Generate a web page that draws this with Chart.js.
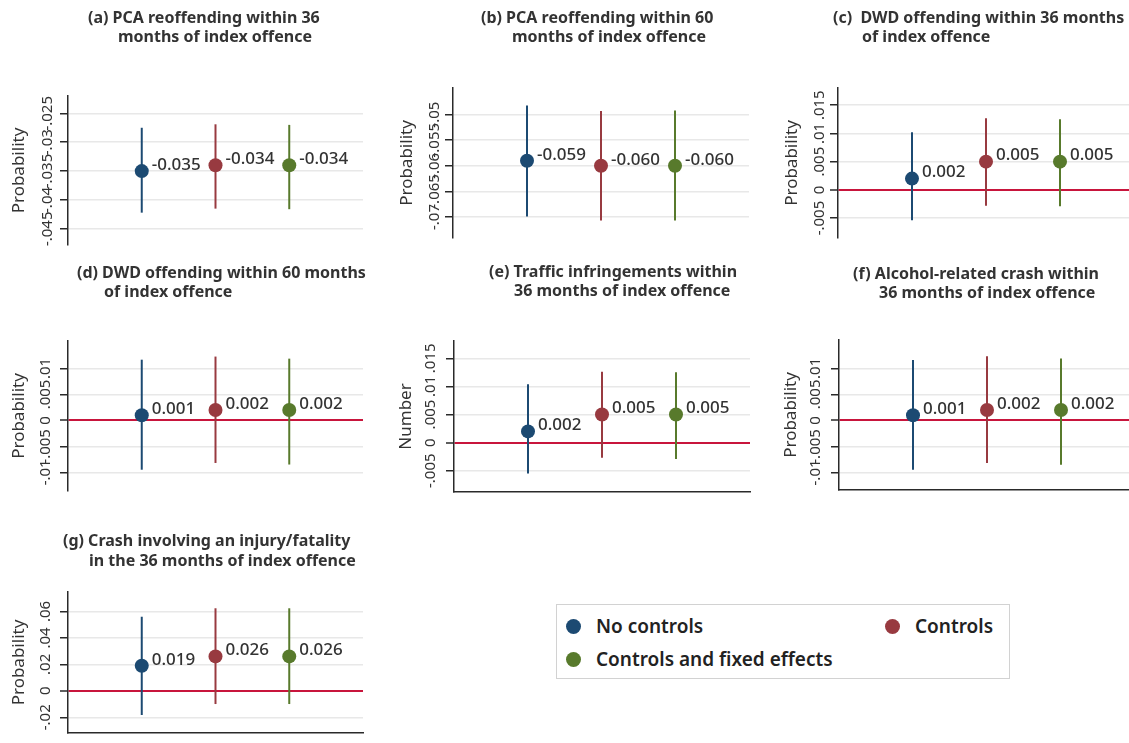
<!DOCTYPE html>
<html>
<head>
<meta charset="utf-8">
<title>Estimated effects with confidence intervals</title>
<script src="https://cdn.jsdelivr.net/npm/chart.js@4.4.1/dist/chart.umd.min.js"></script>
<style>
  html, body { margin: 0; padding: 0; background: #ffffff; overflow: hidden; }
  #page { position: relative; width: 1129px; height: 743px; overflow: hidden; }
  #page canvas { position: absolute; left: 0; top: 0; }
  #legend {
    position: absolute; left: 556px; top: 604px; width: 454px; height: 75px;
    box-sizing: border-box; border: 1px solid #d2d2d2; background: #fff;
    font: 600 19px "Noto Sans", sans-serif; color: #222;
  }
  #legend .item { position: absolute; display: flex; align-items: center; white-space: nowrap; height: 24px; }
  #legend .dot { width: 15px; height: 15px; border-radius: 50%; flex: none; margin-right: 15.5px; }
</style>
</head>
<body>
<div id="page"><div id="legend"></div></div>
<script>
// ---- series ----
const seriesNames = ['No controls', 'Controls', 'Controls and fixed effects'];
const seriesColors = ['#1c4a72', '#983a40', '#587a2c'];

// ---- panels ----
const panelTitles = [
  ['(a) PCA reoffending within 36', 'months of index offence'],
  ['(b) PCA reoffending within 60', 'months of index offence'],
  ['(c)  DWD offending within 36 months', 'of index offence'],
  ['(d) DWD offending within 60 months', 'of index offence'],
  ['(e) Traffic infringements within', '36 months of index offence'],
  ['(f) Alcohol-related crash within', '36 months of index offence'],
  ['(g) Crash involving an injury/fatality', 'in the 36 months of index offence']
];
const yAxisTitles = ['Probability', 'Probability', 'Probability', 'Probability', 'Number', 'Probability', 'Probability'];

// point estimates, one row per panel, one column per series
const estimates = [
  [-0.035, -0.034, -0.034],
  [-0.059, -0.060, -0.060],
  [0.002, 0.005, 0.005],
  [0.001, 0.002, 0.002],
  [0.002, 0.005, 0.005],
  [0.001, 0.002, 0.002],
  [0.019, 0.026, 0.026]
];
// confidence interval bounds
const lowerBounds = [
  [-0.0422, -0.0415, -0.0416],
  [-0.0699, -0.0707, -0.0707],
  [-0.0054, -0.0028, -0.0029],
  [-0.0095, -0.0082, -0.0085],
  [-0.0055, -0.0027, -0.0029],
  [-0.0095, -0.0082, -0.0085],
  [-0.0183, -0.0100, -0.0100]
];
const upperBounds = [
  [-0.0275, -0.0269, -0.0270],
  [-0.0482, -0.0493, -0.0492],
  [0.0102, 0.0127, 0.0125],
  [0.0117, 0.0123, 0.0119],
  [0.0104, 0.0126, 0.0125],
  [0.0116, 0.0123, 0.0119],
  [0.0560, 0.0624, 0.0624]
];
// y axis ticks
const yTickValues = [
  [-0.045, -0.04, -0.035, -0.03, -0.025],
  [-0.07, -0.065, -0.06, -0.055, -0.05],
  [-0.005, 0, 0.005, 0.01, 0.015],
  [-0.01, -0.005, 0, 0.005, 0.01],
  [-0.005, 0, 0.005, 0.01, 0.015],
  [-0.01, -0.005, 0, 0.005, 0.01],
  [-0.02, 0, 0.02, 0.04, 0.06]
];
const yTickLabels = [
  ['-.045', '-.04', '-.035', '-.03', '-.025'],
  ['-.07', '-.065', '-.06', '-.055', '-.05'],
  ['-.005', '0', '.005', '.01', '.015'],
  ['-.01', '-.005', '0', '.005', '.01'],
  ['-.005', '0', '.005', '.01', '.015'],
  ['-.01', '-.005', '0', '.005', '.01'],
  ['-.02', '0', '.02', '.04', '.06']
];

// ---- page geometry of each panel (pixels) and its value range ----
const PAGE_W = 1140, PAGE_H = 743, AXIS_W = 67;
const panelFrames = [
  { axisX: 68,  top: 96,  bottom: 245, right: 363,  yMin: -0.0478, yMax: -0.0220, baseline: false, tickCenter: 20, titleCenter: 49, t1: [88, 18.5],  t2: [118, 37] },
  { axisX: 453, top: 88,  bottom: 238, right: 749,  yMin: -0.0741, yMax: -0.0448, baseline: false, tickCenter: 18, titleCenter: 46, t1: [481, 18.5], t2: [512, 37] },
  { axisX: 838, top: 88,  bottom: 238, right: 1134, yMin: -0.00853, yMax: 0.01805, baseline: false, tickCenter: 18, titleCenter: 46, t1: [833, 18.5], t2: [862, 37] },
  { axisX: 68,  top: 341, bottom: 491, right: 363,  yMin: -0.0136, yMax: 0.0153, baseline: false, tickCenter: 22, titleCenter: 49, t1: [77, 273.5], t2: [104, 292] },
  { axisX: 454, top: 341, bottom: 492, right: 750,  yMin: -0.00878, yMax: 0.01807, baseline: true, tickCenter: 23, titleCenter: 48, t1: [489, 272.5], t2: [514, 291.5] },
  { axisX: 839, top: 340, bottom: 490, right: 1135, yMin: -0.01337, yMax: 0.01544, baseline: true, tickCenter: 23, titleCenter: 48, t1: [853, 274], t2: [879, 293] },
  { axisX: 68,  top: 592, bottom: 740, right: 363,  yMin: -0.0319, yMax: 0.0747, baseline: true, tickCenter: 22, titleCenter: 49, t1: [63, 541.5], t2: [89, 561] }
];

const FONT = '"Noto Sans", "Open Sans", sans-serif';
const TEXT_COLOR = '#333333';
const ZERO_COLOR = '#c8153c';
const GRID_COLOR = '#e8e8e8';
const AXIS_COLOR = '#2a2a2a';
const TICK_FONT_SIZE = 15;
const TICK_LEN = 8;

const measureCtx = document.createElement('canvas').getContext('2d');
measureCtx.font = TICK_FONT_SIZE + 'px ' + FONT;

// labels with the estimate beside each point
const pointLabelPlugin = {
  id: 'pointLabels',
  afterDatasetsDraw(chart, args, opts) {
    const ctx = chart.ctx;
    ctx.save();
    ctx.font = opts.font;
    ctx.fillStyle = opts.color;
    ctx.textAlign = 'left';
    ctx.textBaseline = 'middle';
    chart.data.datasets.forEach((ds, i) => {
      const el = chart.getDatasetMeta(i).data[1];
      ctx.fillText(ds.data[1].y.toFixed(3), el.x + opts.dx, el.y + opts.dy);
    });
    ctx.restore();
  }
};

// two-line panel heading, second line indented
const panelTitlePlugin = {
  id: 'panelTitle',
  afterDraw(chart, args, opts) {
    const ctx = chart.ctx;
    ctx.save();
    ctx.font = opts.font;
    ctx.fillStyle = opts.color;
    ctx.textAlign = 'left';
    ctx.textBaseline = 'middle';
    opts.lines.forEach((line, i) => ctx.fillText(line, opts.positions[i][0], opts.positions[i][1]));
    ctx.restore();
  }
};

const page = document.getElementById('page');

function buildPanel(p) {
  const f = panelFrames[p];
  const canvas = document.createElement('canvas');
  canvas.width = PAGE_W;
  canvas.height = PAGE_H;
  page.appendChild(canvas);

  const widest = Math.max(...yTickLabels[p].map(t => measureCtx.measureText(t).width));
  const tickPad = f.tickCenter - TICK_LEN - widest / 2;
  const axisTitleSize = 17;
  const axisTitlePad = AXIS_W - f.titleCenter - axisTitleSize * 1.2 / 2;

  const datasets = seriesNames.map((name, s) => ({
    label: name,
    data: [
      { x: s + 1, y: lowerBounds[p][s] },
      { x: s + 1, y: estimates[p][s] },
      { x: s + 1, y: upperBounds[p][s] }
    ],
    showLine: true,
    borderColor: seriesColors[s],
    backgroundColor: seriesColors[s],
    borderWidth: 2,
    borderCapStyle: 'butt',
    pointRadius: [0, 7, 0],
    pointHoverRadius: [0, 7, 0],
    pointBorderWidth: 0,
    pointBackgroundColor: seriesColors[s],
    tension: 0,
    clip: false
  }));

  return new Chart(canvas, {
    type: 'scatter',
    data: { datasets },
    plugins: [pointLabelPlugin, panelTitlePlugin],
    options: {
      responsive: false,
      animation: false,
      events: [],
      devicePixelRatio: 1,
      layout: {
        padding: {
          left: f.axisX - AXIS_W,
          right: PAGE_W - f.right,
          top: f.top,
          bottom: PAGE_H - f.bottom
        }
      },
      scales: {
        x: {
          type: 'linear',
          min: 0,
          max: 4,
          display: f.baseline,
          grid: { display: false, drawTicks: false },
          ticks: { display: false },
          border: { display: true, color: AXIS_COLOR, width: 1.5 },
          afterFit(scale) { scale.height = 0; }
        },
        y: {
          type: 'linear',
          min: f.yMin,
          max: f.yMax,
          bounds: 'data',
          afterBuildTicks(scale) { scale.ticks = yTickValues[p].map(v => ({ value: v })); },
          afterFit(scale) { scale.width = AXIS_W; },
          ticks: {
            autoSkip: false,
            minRotation: 90,
            maxRotation: 90,
            crossAlign: 'center',
            padding: tickPad,
            color: TEXT_COLOR,
            font: { family: FONT, size: TICK_FONT_SIZE },
            callback: (value, index) => yTickLabels[p][index]
          },
          grid: {
            drawTicks: true,
            tickLength: TICK_LEN,
            tickColor: AXIS_COLOR,
            tickWidth: 1.5,
            color: ctx => (ctx.tick && ctx.tick.value === 0 ? ZERO_COLOR : GRID_COLOR),
            lineWidth: ctx => (ctx.tick && ctx.tick.value === 0 ? 2 : 1.5)
          },
          border: { display: true, color: AXIS_COLOR, width: 1.5 },
          title: {
            display: true,
            text: yAxisTitles[p],
            color: TEXT_COLOR,
            font: { family: FONT, size: axisTitleSize },
            padding: { top: axisTitlePad, bottom: 0 }
          }
        }
      },
      plugins: {
        legend: { display: false },
        tooltip: { enabled: false },
        pointLabels: { font: '500 17px ' + FONT, color: TEXT_COLOR, dx: 10, dy: -6 },
        panelTitle: {
          lines: panelTitles[p],
          positions: [f.t1, f.t2],
          font: 'bold 16px ' + FONT,
          color: TEXT_COLOR
        }
      }
    }
  });
}

const charts = panelTitles.map((_, p) => buildPanel(p));

// legend box built from the first panel's series
const legendSlots = [[16, 21], [335, 21], [16, 54]];
const legendEl = document.getElementById('legend');
charts[0].options.plugins.legend.labels.generateLabels(charts[0]).forEach((item, i) => {
  const row = document.createElement('div');
  row.className = 'item';
  row.style.left = (legendSlots[i][0] - 7.5) + 'px';
  row.style.top = (legendSlots[i][1] - 12) + 'px';
  const dot = document.createElement('span');
  dot.className = 'dot';
  dot.style.background = seriesColors[item.datasetIndex];
  const label = document.createElement('span');
  label.textContent = item.text;
  row.appendChild(dot);
  row.appendChild(label);
  legendEl.appendChild(row);
});
</script>
</body>
</html>
